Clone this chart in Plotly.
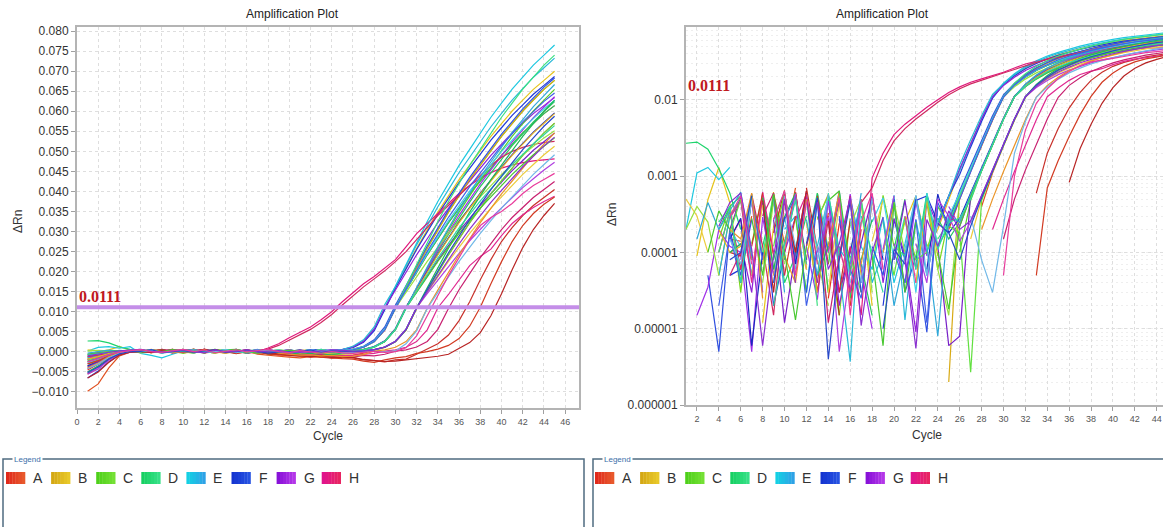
import math
import plotly.graph_objects as go

W, H = 1163, 527

# ---------------- data ----------------
CYCLES = list(range(1, 46))
ROWS = ["A", "B", "C", "D", "E", "F", "G", "H"]
THRESHOLD = 0.0111
UNIT = 1e-5  # stored ΔRn readings are in units of 1e-5

A1 = [-450,-300,-150,-40,15, 14,-20,55,9,-10, 62,6,-15,2.5,24, -30,4,-60,-80,-70, -90,-60,-40,-20,20, 50,115,250,540,1080, 1540,1980,2420,2820,3220, 3580,3940,4260,4580,4900, 5180,5460,5700,5940,6140]
A2 = [-980,-800,-400,-100,-10, 6,30,-30,60,13, 70,-25,4,33,-40, 7,-55,-90,-110,-130, -150,-120,-140,-100,-80, -80,-30,40,110,250, 540,1080,1540,1980,2420, 2820,3220,3580,3940,4260, 4580,4900,5180,5460,5700]
A3 = [-550,-420,-200,-60,10, 9,52,-15,18,65, -20,70,11,-10,3, 26,-35,-20,-60,-90, -110,-80,-130,-160,-140, -150,-200,-220,-250,-200, -180,-60,60,200,420, 780,1250,1800,2300,2750, 3100,3400,3650,3850,4050]
A4 = [-300,-220,-100,-20,8, -15,12,60,-25,5, 30,-30,55,7,-45, 2,20,-40,-70,-100, -90,-130,-110,-150,-170, -180,-230,-260,-200,-150, -120,-40,5,70,160, 330,640,1110,1700,2250, 2750,3150,3450,3680,3860]
A5 = [-650,-500,-260,-80,-5, 7,-10,48,3,58, 10,64,-5,26,1.5, -25,3,-50,-45,-85, -100,-120,-95,-140,-130, -140,-190,-210,-240,-230, -200,-180,-150,-110,-60, 83,230,480,900,1450, 2050,2600,3050,3400,3700]

B1 = [-80,9,49,130,45, 4,-20,1.2,22,50, -10,8,55,3,-25, 10,45,2,-15,8, 25,55,12,20,50, 120,265,570,1100,1595, 2090,2585,3035,3485,3890, 4295,4655,5015,5375,5690, 6005,6275,6545,6770,6995]
B2 = [-250,-150,-60,5,30, 48,-5,7,62,-30, 5,-12,27,58,6, -20,23,-45,-30,4, -40,-60,10,-10,0.2, 60,130,270,560,1100, 1595,2090,2585,3035,3485, 3890,4295,4655,5015,5375, 5690,6005,6275,6545,6770]
B3 = [50,30,10,-10,20, -25,5,42,-8,11, 55,6,-35,3,46, 2,-28,14,50,-15, 7,-50,-70,-45,-60, -30,15,50,115,255, 550,1090,1485,1870,2255, 2605,2955,3270,3585,3865, 4145,4425,4670,4915,5125]
B4 = [-180,-120,-40,20,10, 12,50,-15,5,30, -20,25,3,-40,8, 52,5,-10,10,42, -25,4,48,9,-35, 25,55,120,260,560, 1100,1540,1980,2420,2820, 3220,3580,3940,4260,4580, 4900,5180,5460,5700,5940]
B5 = [-400,-280,-120,-30,20, 15,60,2.5,-20,9, 4,50,-18,12,62, -12,7,44,-35,-60, -80,-75,-100,-90,-120, -110,-70,20,50,115, 255,550,1090,1540,1980, 2420,2820,3220,3580,3940, 4260,4580,4900,5180,5460]

C1 = [-150,-90,-30,15,40, 3,55,9,-22,48, 8,-8,60,11,1.5, 28,-18,6,56,12, -30,9,45,6,28, 58,125,262,565,1100, 1595,2090,2585,3035,3485, 3890,4295,4655,5015,5375, 5690,6005,6275,6545,6770]
C2 = [-350,-220,-90,-10,25, -12,13,56,6,-30, 29,3,-25,52,10, -8,26,-50,-30,7, -60,-85,-40,-70,-55, 10,48,118,258,555, 1095,1595,2090,2585,3035, 3485,3890,4295,4655,5015, 5375,5690,6005,6275,6545]
C3 = [20,40,25,5,-15, 10,-20,4,47,7, -35,58,8,2,-14, 22,50,3,-22,46, 10,-15,54,6,1.5, 52,118,258,555,1095, 1485,1870,2255,2605,2955, 3270,3585,3865,4145,4425, 4670,4915,5125,5335,5510]
C4 = [-220,-160,-70,0,18, 50,8,-18,12,62, 4,-28,28,55,-6, 9,3,-40,25,5, 29,8,10,40,22, 18,0.27,48,115,255, 550,1090,1540,1980,2420, 2820,3220,3580,3940,4260, 4580,4900,5180,5460,5700]
C5 = [-60,-30,10,35,20, -10,28,5,58,10, 1.3,12,-22,48,64, 6,-30,9,0.6,45, 3,25,-25,10,1.8, 22,54,118,258,555, 1095,1485,1870,2255,2605, 2955,3270,3585,3865,4145, 4425,4670,4915,5125,5335]

D1 = [270,280,225,125,60, 20,-10,12,50,4, 9,30,-12,7,56, 2.5,25,-20,10,48, -15,8,60,12,22, 55,120,260,560,1100, 1540,1980,2420,2820,3220, 3580,3940,4260,4580,4900, 5180,5460,5700,5940,6140]
D2 = [-120,-70,-20,20,40, 55,10,-8,8,29, -18,12,60,3,-30, 27,7,1.5,-25,11, 50,-20,5,28,15, 25,55,120,260,560, 1100,1570,2035,2500,2930, 3350,3735,4120,4460,4800, 5140,5435,5735,5990,6240]
D3 = [-200,-130,-50,10,35, -20,46,9,60,-15, 11,54,2,-26,27, 5,48,8,-12,12, 9,52,-30,15,25, 55,120,260,560,1100, 1650,2200,2750,3250,3750, 4200,4650,5050,5450,5850, 6200,6550,6850,7150,7400]
D4 = [-500,-350,-170,-50,10, 13,-12,52,6,29, 60,-22,5,12,50, -15,8,27,-45,-20, -60,-35,-80,-55,-40, -20,25,55,120,260, 560,1100,1595,2090,2585, 3035,3485,3890,4295,4655, 5015,5375,5690,6005,6275]
D5 = [-80,-40,0,25,40, 4,55,-25,2,13, 48,7,-10,60,9, -35,30,10,3,-18, 27,6,55,11,25, 28,50,118,258,555, 1095,1510,1925,2340,2710, 3090,3425,3765,4065,4365, 4665,4925,5190,5415,5640]

E1 = [20,110,130,90,130, -40,-90,-150,-60,20, 30,3,58,10,-8, 52,12,6,29,4, 13,55,10,25,55, 120,260,560,1100,1650, 2200,2750,3250,3750,4200, 4650,5050,5450,5850,6200, 6550,6850,7150,7400,7650]
E2 = [-150,-90,-40,5,30, 50,5,-24,27,62, 8,-14,12,54,6, 0.37,48,4,10,56, 1.3,27,5,25,55, 140,300,620,1180,1623, 2145,2668,3143,3618,4045, 4473,4853,5233,5613,5945, 6278,6563,6848,7085,7323]
E3 = [-280,-180,-80,-15,20, 12,58,3,-18,29, 6,50,11,-10,62, 4,-22,25,52,8, 30,3,60,12,30, 60,125,265,565,1100, 1550,2000,2455,2865,3275, 3640,4010,4340,4670,4995, 5280,5570,5815,6060,6265]
E4 = [-30,15,45,20,35, 62,9,-15,50,3, -25,27,5,56,11, 7,60,-18,28,2, 9,50,12,0.8,30, 25,58,125,262,560, 1100,1606,2112,2618,3078, 3538,3952,4366,4734,5102, 5470,5792,6114,6390,6666]
E5 = [-420,-300,-140,-35,15, 7,48,-30,4,55, 12,-12,8,58,-20, 27,4,52,9,-10, 11,56,5,27,-30, -15,30,8,3,22, 200,520,1080,1485,1870, 2255,2605,2955,3270,3585, 3865,4145,4425,4670,4915]

F1 = [-650,-480,-250,-70,5, 6,-15,45,2,10, 58,8,-35,29,3, 10,50,-20,2,27, 8,48,55,25,55, 105,240,520,1050,1584, 2068,2552,2992,3432,3828, 4224,4576,4928,5280,5588, 5896,6160,6424,6644,6864]
F2 = [-60,-20,5,0.5,20, 5,27,-10,55,8, -20,3,46,10,64, 2,-25,12,5,50, 3,9,0.9,40,25, 65,140,300,620,1160, 1640,2140,2640,3090,3540, 3950,4350,4710,5070,5430, 5740,6060,6330,6600,6830]
F3 = [-350,-250,-110,-20,15, 28,0.6,10,-18,50, 7,60,-12,12,48, -30,4,55,8,-8, 28,-15,6,58,18, 28,60,130,275,580, 1120,1560,2000,2440,2840, 3240,3600,3960,4280,4600, 4920,5200,5480,5720,5960]
F4 = [-240,-160,-70,2,18, 4,50,8,-12,27, 55,2,11,-20,30, 6,2.5,48,-15,10, 4,27,1.2,45,22, 50,115,255,550,1090, 1570,2035,2505,2930,3355, 3735,4120,4460,4800,5140, 5435,5735,5990,6245,6455]
F5 = [-520,-380,-180,-50,8, 10,55,-20,4,29, -8,13,52,0.4,8, 46,3,-30,1.0,11, 7,50,-10,24,18, 8,22,52,118,258, 555,1095,1555,2015,2470, 2885,3300,3675,4045,4380, 4710,5045,5335,5625,5875]

G1 = [-500,-380,-190,-60,10, 13,3,60,-22,10, 29,-15,8,50,2, 11,-20,58,4,28, 9,0.9,50,22,55, 125,265,565,1100,1540, 1980,2420,2820,3220,3580, 3940,4260,4580,4900,5180, 5460,5700,5940,6140,6340]
G2 = [-200,1.5,3.5,20,12, 10,0.5,29,5,56, -18,12,2.4,48,8, 58,6,1.0,-25,13, 4,46,9,-30,40, 22,55,120,260,560, 1100,1580,2055,2535,2970, 3405,3795,4190,4535,4885, 5235,5535,5840,6105,6365]
G3 = [-380,-260,-120,-25,20, 52,8,-12,27,1.2, 10,55,4,-28,28, 3,13,54,-10,8, 48,6,-15,12,0.6, 0.8,58,122,262,560, 1100,1495,1890,2290,2650, 3010,3330,3655,3945,4230, 4520,4770,5025,5240,5455]
G4 = [-560,-420,-210,-70,-5, 8,48,3,-20,12, 58,-10,10,29,0.5, 6,46,-22,11,55, -20,13,4,50,30, 14,25,55,120,260, 560,1100,1450,1795,2140, 2455,2770,3055,3335,3590, 3840,4095,4315,4535,4725]
G5 = [-100,-50,-10,22,45, 60,11,0.6,9,50, 4,-25,46,6,13, 52,1.1,10,29,-18, 8,0.55,27,12,35, 20,26,56,122,262, 565,1105,1505,1915,2320, 2690,3060,3395,3725,4025, 4320,4615,4875,5135,5355]

H1 = [-300,-200,-90,-20,15, 27,5,55,-10,10, 62,7,-20,30,3, 12,1.5,95,200,350, 480,620,800,1000,1250, 1480,1700,1880,2080,2300, 2620,2950,3200,3450,3700, 3950,4150,4330,4470,4580, 4660,4720,4760,4790,4810]
H2 = [-120,-80,-30,10,35, 6,58,12,1.5,48, 10,64,3,27,-15, 7,45,70,160,290, 420,560,730,930,1170, 1400,1620,1820,2020,2250, 2500,2800,3100,3400,3650, 3900,4150,4420,4650,4850, 5000,5100,5170,5220,5250]
H3 = [-180,-120,-50,0,28, 48,4,62,10,-12, 27,58,7,-18,12, 3,50,-25,-40,-60, -70,-55,-90,-80,-100, -85,-60,-40,20,50, 115,255,550,1100,1430, 1800,2150,2380,2560,2900, 3200,3420,3600,3750,3880]
H4 = [-420,-300,-150,-40,5, 10,-20,30,60,5, -10,12,50,1.2,9, 55,-15,6,-30,-50, -80,-100,-70,-120,-110, -130,-90,-100,-60,15, 50,120,260,560,1080, 1550,1950,2350,2700,3050, 3350,3600,3850,4050,4250]
H5 = [-250,-170,-70,-5,30, 55,7,-15,27,64, 5,46,-22,10,52, 1.5,25,60,6,-20, 30,4,-35,9,-25, -40,-20,10,-15,5, 100,400,900,1400,1900, 2350,2800,3150,3350,3500, 3700,3950,4150,4300,4450]

WELLS = {
    "A": [A1, A2, A3, A4, A5],
    "B": [B1, B2, B3, B4, B5],
    "C": [C1, C2, C3, C4, C5],
    "D": [D1, D2, D3, D4, D5],
    "E": [E1, E2, E3, E4, E5],
    "F": [F1, F2, F3, F4, F5],
    "G": [G1, G2, G3, G4, G5],
    "H": [H1, H2, H3, H4, H5],
}

WELL_COLORS = {
    "A": ["#e8301c", "#e05020", "#c8302a", "#d23a22", "#b82424"],
    "B": ["#e6c41a", "#d8aa14", "#eccc3c", "#e8b420", "#ea9428"],
    "C": ["#7ad81e", "#56d028", "#9ae040", "#62e040", "#48c830"],
    "D": ["#1ed46c", "#28c860", "#3ae080", "#20b858", "#30d8a0"],
    "E": ["#1ec8e0", "#28b8d8", "#40d0e8", "#30a8d8", "#70b8e8"],
    "F": ["#2038d8", "#3050e0", "#1828c0", "#4060e8", "#2848c8"],
    "G": ["#9020d8", "#a030e8", "#7820c8", "#b040e0", "#8a30d0"],
    "H": ["#e0187c", "#d02860", "#e02890", "#c82070", "#e83c9c"],
}

LEGEND_COLORS = {
    "A": ("#e02a1c", "#e8582c"),
    "B": ("#d4a814", "#e8c82a"),
    "C": ("#4ed01a", "#74e034"),
    "D": ("#16d062", "#36e086"),
    "E": ("#14d0e4", "#2ea2e6"),
    "F": ("#1434d0", "#2652e2"),
    "G": ("#8812d8", "#b436e8"),
    "H": ("#e0148c", "#e82462"),
}

# ---------------- figure ----------------
def px(x):
    return x / W

def py(y):
    return 1 - y / H

def mix(c1, c2, t):
    a = [int(c1[i:i + 2], 16) for i in (1, 3, 5)]
    b = [int(c2[i:i + 2], 16) for i in (1, 3, 5)]
    return "#%02x%02x%02x" % tuple(round(a[k] + (b[k] - a[k]) * t) for k in range(3))

FONT = "Liberation Sans, Arial, sans-serif"
fig = go.Figure()

# interleave rows so colours mix like in the instrument plot
for k in range(5):
    for row in ROWS:
        vals = WELLS[row][k]
        col = WELL_COLORS[row][k]
        ys = [v * UNIT for v in vals]
        fig.add_trace(go.Scatter(x=CYCLES, y=ys, mode="lines",
                                 line=dict(color=col, width=1.2),
                                 xaxis="x", yaxis="y", hoverinfo="skip"))
        ylog = [v * UNIT if v > 0 else None for v in vals]
        fig.add_trace(go.Scatter(x=CYCLES, y=ylog, mode="lines",
                                 line=dict(color=col, width=1.2),
                                 xaxis="x2", yaxis="y2", hoverinfo="skip",
                                 connectgaps=False))

grid = "#dedede"
axis_common = dict(showline=True, linecolor="#b4b4b4", linewidth=2,
                   ticks="outside", ticklen=4, tickcolor="#a0a0a0",
                   showgrid=True, gridcolor=grid, griddash="3px,3px",
                   gridwidth=1, zeroline=False)

fig.update_layout(
    width=W, height=H,
    margin=dict(l=0, r=0, t=0, b=0, autoexpand=False),
    paper_bgcolor="white", plot_bgcolor="white",
    showlegend=False,
    font=dict(family=FONT, color="#333333"),
    xaxis=dict(domain=[px(77), px(579)], range=[0, 47.3], tick0=0, dtick=2,
               mirror=True, anchor="y",
               tickfont=dict(size=9, color="#555555"), **axis_common),
    yaxis=dict(domain=[py(408), py(27)], range=[-0.014, 0.081], tick0=0,
               dtick=0.005, tickformat=".3f", mirror=True, anchor="x",
               tickfont=dict(size=12, color="#333333"), **axis_common),
    xaxis2=dict(domain=[px(686), 1.0], range=[1, 44.57], tick0=0, dtick=2,
                mirror=True, anchor="y2",
                tickfont=dict(size=9, color="#555555"), **axis_common),
    yaxis2=dict(domain=[py(405), py(27)], type="log", range=[-6, -1.045],
                tickmode="array",
                tickvals=[1e-6, 1e-5, 1e-4, 1e-3, 1e-2],
                ticktext=["0.000001", "0.00001", "0.0001", "0.001", "0.01"],
                anchor="x2",
                minor=dict(dtick="D1", showgrid=True, gridcolor="#eeeeee",
                           griddash="2px,3px", ticks=""),
                tickfont=dict(size=12, color="#333333"), **axis_common),
)

# threshold lines and labels
thr_col = "#c48ee8"
fig.add_shape(type="line", xref="x domain", yref="y", x0=0, x1=1,
              y0=THRESHOLD, y1=THRESHOLD, line=dict(color=thr_col, width=4))
fig.add_shape(type="line", xref="x2 domain", yref="y2", x0=0, x1=1,
              y0=math.log10(THRESHOLD), y1=math.log10(THRESHOLD),
              line=dict(color=thr_col, width=4))
lab_font = dict(family="Liberation Serif, Times New Roman, serif", size=16,
                color="#c0181e")
fig.add_annotation(xref="x domain", yref="y", x=0, y=THRESHOLD,
                   text="<b>%s</b>" % THRESHOLD, showarrow=False,
                   xanchor="left", yanchor="bottom", yshift=0, font=lab_font)
fig.add_annotation(xref="x2 domain", yref="y2", x=0, y=math.log10(THRESHOLD),
                   text="<b>%s</b>" % THRESHOLD, showarrow=False,
                   xanchor="left", yanchor="bottom", yshift=0, font=lab_font)

# titles / axis labels
for cx in (292, 882):
    fig.add_annotation(xref="paper", yref="paper", x=px(cx), y=py(14),
                       text="Amplification Plot", showarrow=False,
                       xanchor="center", yanchor="middle",
                       font=dict(size=12, color="#222222"))
for cx, cy in ((328, 436), (927, 435)):
    fig.add_annotation(xref="paper", yref="paper", x=px(cx), y=py(cy),
                       text="Cycle", showarrow=False,
                       xanchor="center", yanchor="middle",
                       font=dict(size=12, color="#333333"))
for cx, cy in ((18, 222), (612, 215)):
    fig.add_annotation(xref="paper", yref="paper", x=px(cx), y=py(cy),
                       text="ΔRn", showarrow=False, textangle=-90,
                       xanchor="center", yanchor="middle",
                       font=dict(size=12, color="#333333"))

# legend panels
frame_col = "#4f6b80"
N_STRIPES = 6
def legend_panel(x0, x1, sq0):
    fig.add_shape(type="path", xref="paper", yref="paper",
                  path="M %f %f L %f %f L %f %f L %f %f" % (
                      px(x0), py(540), px(x0), py(459),
                      px(x1), py(459), px(x1), py(540)),
                  line=dict(color=frame_col, width=1.5))
    fig.add_annotation(xref="paper", yref="paper", x=px(x0 + 9), y=py(459),
                       text="Legend", showarrow=False, xanchor="left",
                       yanchor="middle", bgcolor="white",
                       font=dict(size=8, color="#3a6ea8"))
    for i, row in enumerate(ROWS):
        sx = sq0 + 45.1 * i
        c1, c2 = LEGEND_COLORS[row]
        sw = 19.0 / N_STRIPES
        for s in range(N_STRIPES):
            fig.add_shape(type="rect", xref="paper", yref="paper",
                          x0=px(sx + s * sw), x1=px(sx + (s + 1) * sw + 0.3),
                          y0=py(484), y1=py(472),
                          fillcolor=mix(c1, c2, s / (N_STRIPES - 1)),
                          line=dict(width=0))
        fig.add_annotation(xref="paper", yref="paper", x=px(sx + 25),
                           y=py(478), text=row, showarrow=False,
                           xanchor="left", yanchor="middle",
                           font=dict(size=14, color="#333333"))

legend_panel(3, 584, 6)
legend_panel(593, 1200, 595)

fig.write_html("out.html",
               config={"displayModeBar": False},
               post_script="document.body.style.margin='0';"
                           "document.body.style.overflow='hidden';")
